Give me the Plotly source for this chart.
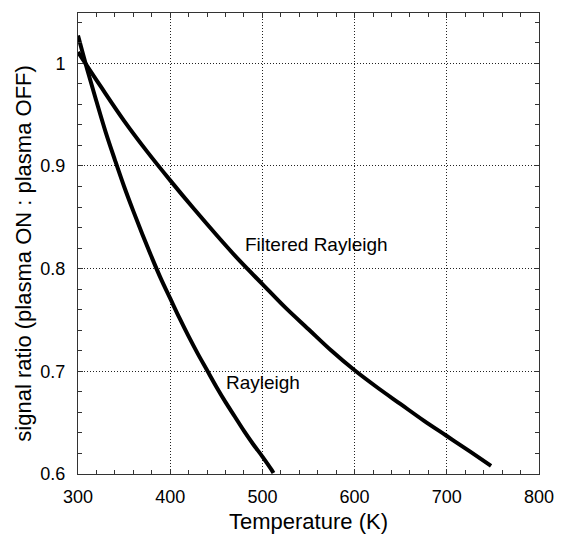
import plotly.graph_objects as go

# Rayleigh curve
ray_T = [300, 310, 320, 330, 340, 350, 360, 370, 380, 390, 400, 410, 420, 430,
         440, 450, 460, 470, 480, 490, 500, 510, 512]
ray_R = [1.027, 0.994, 0.963, 0.933, 0.906, 0.880, 0.856, 0.833, 0.811, 0.790,
         0.771, 0.752, 0.734, 0.717, 0.701, 0.685, 0.670, 0.656, 0.642, 0.629,
         0.617, 0.604, 0.601]

# Filtered Rayleigh curve
fr_T = [300, 325, 350, 375, 400, 425, 450, 475, 500, 525, 550, 575, 600,
        625, 650, 675, 700, 725, 748]
fr_R = [1.011, 0.977, 0.944, 0.914, 0.886, 0.859, 0.833, 0.808, 0.785, 0.762,
        0.741, 0.720, 0.701, 0.684, 0.668, 0.652, 0.637, 0.622, 0.608]

labels = ["Filtered Rayleigh", "Rayleigh"]
label_T = [479, 458]
label_R = [0.824, 0.689]

FONT = "Liberation Sans, Arial, Helvetica, sans-serif"

fig = go.Figure()
fig.add_trace(go.Scatter(x=ray_T, y=ray_R, mode="lines",
                         line=dict(color="black", width=4, shape="spline", smoothing=1),
                         showlegend=False, hoverinfo="skip"))
fig.add_trace(go.Scatter(x=fr_T, y=fr_R, mode="lines",
                         line=dict(color="black", width=4, shape="spline", smoothing=1),
                         showlegend=False, hoverinfo="skip"))

for t, x, y in zip(labels, label_T, label_R):
    fig.add_annotation(x=x, y=y, text=t, showarrow=False, xanchor="left",
                       yanchor="middle", font=dict(size=19, color="black", family=FONT))

# y-axis title as a rotated annotation for precise placement
fig.add_annotation(xref="paper", yref="paper", x=-0.117, y=0.478,
                   text="signal ratio (plasma ON : plasma OFF)", textangle=-90,
                   showarrow=False, xanchor="center", yanchor="middle",
                   font=dict(size=22, color="black", family=FONT))

axis_common = dict(
    showline=True, linecolor="#333", linewidth=1, mirror="allticks",
    ticks="inside", ticklen=5, tickcolor="#333", tickwidth=1,
    showgrid=True, gridcolor="#222", gridwidth=1, griddash="1px,2px",
    zeroline=False, tickfont=dict(size=18, color="black", family=FONT),
)

fig.update_xaxes(range=[300, 800], tick0=300, dtick=100,
                 title=dict(text="Temperature (K)", font=dict(size=22, color="black", family=FONT), standoff=8),
                 minor=dict(dtick=20, tick0=300, ticks="inside", ticklen=4, tickcolor="#333", showgrid=False),
                 ticklabelstandoff=6,
                 **axis_common)
fig.update_yaxes(range=[0.6, 1.049], tick0=0.6, dtick=0.1,
                 minor=dict(dtick=0.02, tick0=0.6, ticks="inside", ticklen=4, tickcolor="#333", showgrid=False),
                 ticklabelstandoff=8,
                 **axis_common)

fig.update_layout(width=566, height=542, margin=dict(l=78, r=17, t=12, b=65),
                  paper_bgcolor="white", plot_bgcolor="white",
                  font=dict(family=FONT, color="black"))

fig.write_html("out.html")
